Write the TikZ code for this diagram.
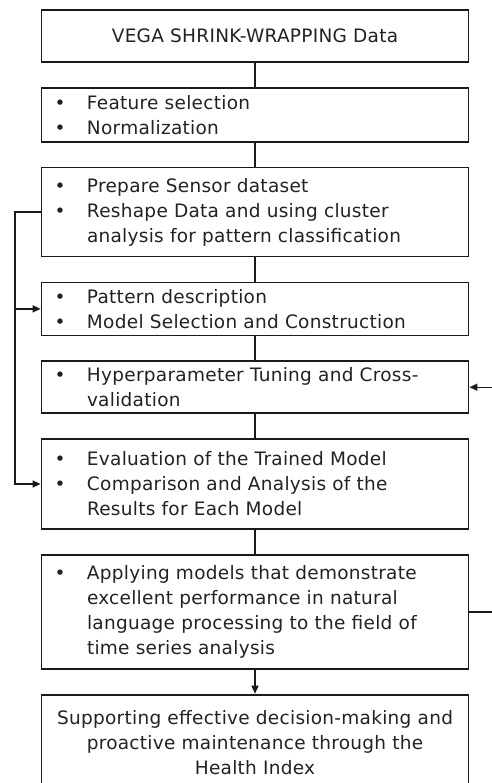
\documentclass[tikz,border=0pt]{standalone}
\usepackage{fontspec}
\setmainfont[WordSpace=1.5, LetterSpace=1.5]{DejaVu Sans}
\usepackage{tikz}
\usetikzlibrary{arrows.meta, positioning}
\definecolor{boxline}{HTML}{1A1A1A}
\definecolor{txtgray}{HTML}{222222}
\newcommand{\bul}{\makebox[32.5pt][l]{\textbullet}}
\newcommand{\cont}{\hspace*{32.5pt}}
\tikzset{
  flowbox/.style={draw=boxline, line width=1.8pt, minimum width=427pt,
                  text width=401pt, inner xsep=13pt, inner ysep=0pt,
                  align=left, font=\fontsize{18.5}{25}\selectfont, text=txtgray},
  endbox/.style={flowbox, text width=423pt, inner xsep=2pt, align=center},
  arr/.style={-{Triangle[length=8pt,width=7pt]}, line width=1.4pt, boxline},
  conn/.style={line width=1.4pt, boxline},
}

\begin{document}
\begin{tikzpicture}[x=1pt, y=-1pt, node distance=24pt]
  \useasboundingbox (0,0) rectangle (491,783);

  \node[endbox, minimum height=52pt] (data) at (255,36)
        {VEGA SHRINK-WRAPPING Data};
  \node[flowbox, minimum height=54pt, below=of data] (prep)
        {\bul Feature selection\\ \bul Normalization};
  \node[flowbox, minimum height=89pt, below=of prep] (sensor)
        {\bul Prepare Sensor dataset\\
         \bul Reshape Data and using cluster\\
         \cont analysis for pattern classification};
  \node[flowbox, minimum height=53pt, below=of sensor] (pattern)
        {\bul Pattern description\\ \bul Model Selection and Construction};
  \node[flowbox, minimum height=52pt, below=of pattern] (tune)
        {\bul Hyperparameter Tuning and Cross-\\ \cont validation};
  \node[flowbox, minimum height=90pt, below=of tune] (eval)
        {\bul Evaluation of the Trained Model\\
         \bul Comparison and Analysis of the\\
         \cont Results for Each Model};
  \node[flowbox, minimum height=114pt, below=of eval] (nlp)
        {\bul Applying models that demonstrate\\
         \cont excellent performance in natural\\
         \cont language processing to the field of\\
         \cont time series analysis};
  \node[endbox, minimum height=95pt, below=of nlp] (health)
        {Supporting effective decision-making and\\
         proactive maintenance through the\\
         Health Index};

  % main chain
  \draw[conn] (data) -- (prep);
  \draw[conn] (prep) -- (sensor);
  \draw[conn] (sensor) -- (pattern);
  \draw[conn] (pattern) -- (tune);
  \draw[conn] (tune) -- (eval);
  \draw[conn] (eval) -- (nlp);
  \draw[arr] (nlp) -- (health);

  % feedback loops
  \draw[arr] (sensor.west) -- ++(-25.5pt,0) coordinate (lp) |- (eval.west);
  \draw[arr] (lp |- pattern.west) -- (pattern.west);
  \draw[arr] (nlp.east) -- ++(30pt,0) coordinate (rp) |- (tune.east);
\end{tikzpicture}
\end{document}
